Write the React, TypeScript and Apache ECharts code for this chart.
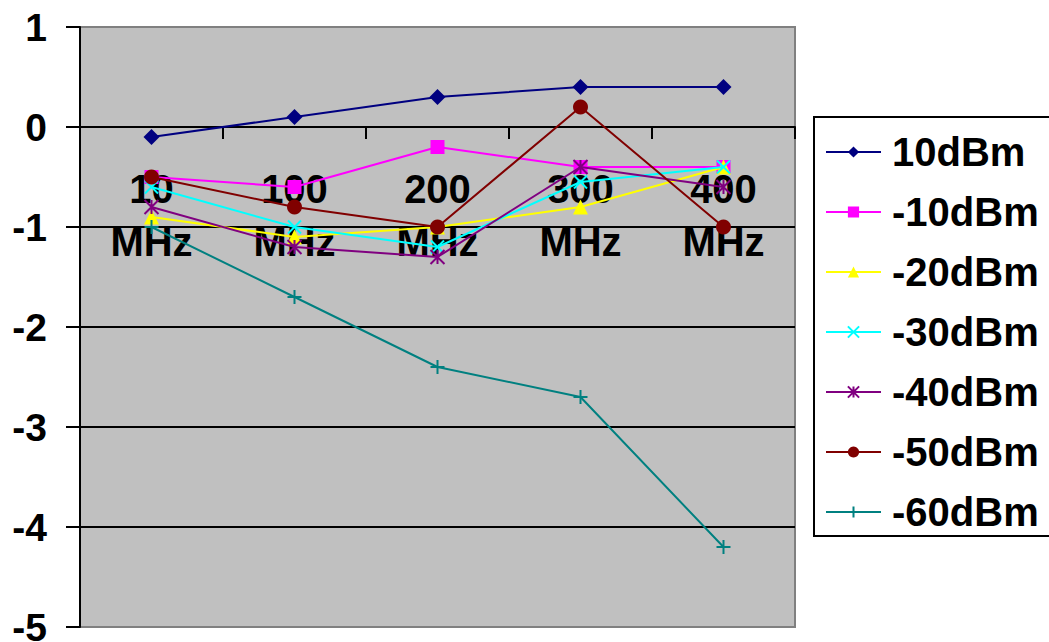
import React, { useEffect, useRef } from "react";
import * as echarts from "echarts";

const categories = ["10\nMHz", "100\nMHz", "200\nMHz", "300\nMHz", "400\nMHz"];
const seriesNames = ["10dBm", "-10dBm", "-20dBm", "-30dBm", "-40dBm", "-50dBm", "-60dBm"];
const s10 = [-0.1, 0.1, 0.3, 0.4, 0.4];
const sM10 = [-0.5, -0.6, -0.2, -0.4, -0.4];
const sM20 = [-0.9, -1.1, -1.0, -0.8, -0.4];
const sM30 = [-0.6, -1.0, -1.2, -0.55, -0.4];
const sM40 = [-0.8, -1.2, -1.3, -0.4, -0.6];
const sM50 = [-0.5, -0.8, -1.0, 0.2, -1.0];
const sM60 = [-1.0, -1.7, -2.4, -2.7, -4.2];
const seriesData = [s10, sM10, sM20, sM30, sM40, sM50, sM60];

const yMin = -5;
const yMax = 1;

const colors = ["#000080", "#FF00FF", "#FFFF00", "#00FFFF", "#800080", "#800000", "#008080"];
const symbols = [
  "diamond",
  "rect",
  "triangle",
  "path://M0,0L10,10M10,0L0,10",
  "path://M0,0L10,10M10,0L0,10M5,0L5,10",
  "circle",
  "path://M5,0L5,10M0,5L10,5",
];
const symbolSizes = [16, 14, 15, 13, 14, 15, 14];

const FONT = "Liberation Sans, Arial, sans-serif";

const GRID_TOP = 27;
const GRID_BOTTOM = 15;
const CHART_H = 642;

export default function App() {
  const ref = useRef<HTMLDivElement>(null);

  useEffect(() => {
    if (!ref.current) return;
    const chart = echarts.init(ref.current, null, { renderer: "svg" });
    const series = seriesNames.map((name, i) => {
      const stroked = symbols[i].startsWith("path://");
      return {
        name,
        type: "line",
        data: seriesData[i],
        symbol: symbols[i],
        symbolSize: symbolSizes[i],
        lineStyle: { color: colors[i], width: 2 },
        itemStyle: stroked
          ? { color: colors[i], borderColor: colors[i], borderWidth: 2 }
          : { color: colors[i], borderWidth: 0 },
        z: 2 + i,
      };
    });

    // the category axis crosses the value axis at zero
    const plotH = CHART_H - GRID_TOP - GRID_BOTTOM;
    const zeroOffset = -(plotH * (0 - yMin)) / (yMax - yMin);

    chart.setOption({
      animation: false,
      backgroundColor: "#ffffff",
      grid: {
        left: 80,
        top: GRID_TOP,
        right: 254,
        bottom: GRID_BOTTOM,
        containLabel: false,
        outerBoundsMode: "none",
        show: true,
        backgroundColor: "#c0c0c0",
        borderColor: "#808080",
        borderWidth: 2,
      },
      legend: {
        orient: "vertical",
        left: 814,
        top: 117,
        data: seriesNames,
        itemWidth: 55,
        itemHeight: 14,
        itemGap: 20,
        padding: [15, 40, 4, 11],
        borderColor: "#000",
        borderWidth: 2,
        textStyle: {
          fontFamily: FONT,
          fontWeight: "bold",
          fontSize: 40,
          lineHeight: 35,
          color: "#000",
          padding: [0, 0, 0, 6],
        },
      },
      xAxis: {
        type: "category",
        data: categories,
        boundaryGap: true,
        position: "bottom",
        offset: zeroOffset,
        axisLine: { onZero: false, lineStyle: { color: "#000", width: 2 } },
        axisTick: { show: true, inside: false, length: 12, lineStyle: { color: "#000", width: 2 } },
        axisLabel: {
          interval: 0,
          margin: 35,
          fontFamily: FONT,
          fontWeight: "bold",
          fontSize: 40,
          lineHeight: 53,
          color: "#000",
        },
        splitLine: { show: false },
      },
      yAxis: {
        type: "value",
        min: yMin,
        max: yMax,
        interval: 1,
        axisLine: { show: true, onZero: false, lineStyle: { color: "#000", width: 2 } },
        axisTick: { show: true, length: 14, lineStyle: { color: "#000", width: 2 } },
        axisLabel: {
          margin: 33,
          fontFamily: FONT,
          fontWeight: "bold",
          fontSize: 39,
          color: "#000",
        },
        splitLine: {
          show: true,
          showMinLine: false,
          showMaxLine: false,
          lineStyle: { color: "#000", width: 2 },
        },
      },
      series,
    });

    return () => chart.dispose();
  }, []);

  return (
    <div
      ref={ref}
      style={{ position: "fixed", left: 0, top: 0, width: 1049, height: 642 }}
    />
  );
}
